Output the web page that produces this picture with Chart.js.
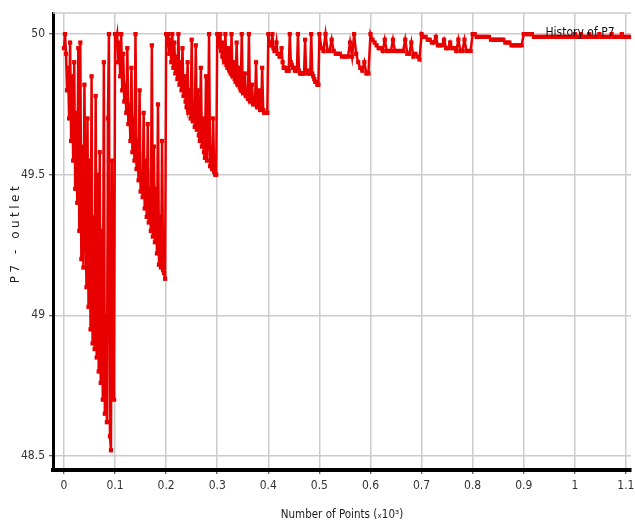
<!DOCTYPE html>
<html>
<head>
<meta charset="utf-8">
<script src="https://cdn.jsdelivr.net/npm/chart.js@4/dist/chart.umd.min.js"></script>
<style>
  html, body { margin: 0; padding: 0; background: #fff; }
  #wrap { width: 635px; height: 524px; position: relative; }
</style>
</head>
<body>
<div id="wrap"><canvas id="myChart"></canvas></div>
<script>
// each cycle covers 0.1 x10^3 points, samples evenly spread in the cycle
const cycle1 = [49.95, 50.0, 49.93, 49.8, 49.88, 49.7, 49.97, 49.62, 49.85, 49.55, 49.9, 49.45, 49.72,
  49.4, 49.95, 49.3, 49.97, 49.2, 49.6, 49.17, 49.82, 49.4, 49.1, 49.7, 49.03, 49.55, 48.95, 49.85,
  48.9, 49.35, 48.88, 49.78, 48.85, 49.5, 48.8, 49.58, 48.76, 49.3, 48.7, 49.9, 48.65, 49.0, 48.62,
  49.7, 50.0, 48.57, 48.52, 49.55, 48.72, 48.7];
const cycle2 = [50.0, 49.98, 50.0, 49.9, 49.97, 49.85, 50.0, 49.8, 49.93, 49.76, 49.82, 49.72, 49.95,
  49.68, 49.75, 49.62, 49.88, 49.58, 49.7, 49.55, 50.0, 49.52, 49.62, 49.48, 49.8, 49.44, 49.5, 49.42,
  49.72, 49.38, 49.55, 49.35, 49.68, 49.33, 49.45, 49.3, 49.96, 49.28, 49.6, 49.26, 49.45, 49.22, 49.75,
  49.18, 49.35, 49.17, 49.62, 49.16, 49.15, 49.13];
const cycle3 = [50.0, 49.96, 50.0, 49.93, 49.98, 49.9, 50.0, 49.88, 49.97, 49.86, 49.92, 49.84, 50.0,
  49.82, 49.9, 49.8, 49.95, 49.78, 49.85, 49.76, 49.74, 49.9, 49.72, 49.8, 49.7, 49.98, 49.69, 49.75,
  49.67, 49.96, 49.66, 49.8, 49.64, 49.62, 49.88, 49.6, 49.7, 49.58, 49.56, 49.85, 49.55, 49.65, 50.0,
  49.53, 49.6, 49.52, 49.7, 49.51, 49.5, 49.5];
const cycle4 = [50.0, 49.98, 49.96, 50.0, 49.94, 49.92, 49.97, 49.9, 50.0, 49.89, 49.88, 49.95, 49.87,
  49.86, 50.0, 49.85, 49.9, 49.84, 49.83, 49.97, 49.82, 49.88, 49.81, 49.8, 50.0, 49.8, 49.79, 49.86,
  49.78, 49.78, 49.77, 50.0, 49.77, 49.76, 49.82, 49.76, 49.75, 49.75, 49.9, 49.74, 49.74, 49.8, 49.73,
  49.73, 49.88, 49.73, 49.72, 49.72, 49.72, 49.72];
const cycle5 = [50.0, 49.97, 49.96, 49.96, 50.0, 49.95, 49.94, 49.94, 49.97, 49.93, 49.93, 49.92, 49.92,
  49.95, 49.9, 49.88, 49.88, 49.88, 49.87, 49.87, 49.87, 50.0, 49.9, 49.89, 49.88, 49.88, 49.87, 49.87,
  49.87, 50.0, 49.87, 49.86, 49.86, 49.86, 49.86, 49.86, 49.98, 49.87, 49.87, 49.86, 49.86, 49.86, 50.0,
  49.86, 49.85, 49.84, 49.83, 49.83, 49.82, 49.82];
const cycle6 = [50.0, 49.95, 49.94, 50.0, 49.94, 49.94, 49.98, 49.94, 49.93, 49.93, 49.93, 49.92, 49.92,
  49.92, 49.92, 49.97, 49.92, 50.0, 49.93, 49.9, 49.88, 49.87, 49.9, 49.86, 49.86];
const cycle7 = [50.0, 49.98, 49.97, 49.96, 49.95, 49.95, 49.94, 49.98, 49.94, 49.94, 49.94, 49.98, 49.94,
  49.94, 49.94, 49.94, 49.94, 49.98, 49.93, 49.93, 49.97, 49.92, 49.93, 49.92, 49.91];
const cycle8 = [50.0, 49.99, 49.99, 49.98, 49.98, 49.97, 49.97, 49.99, 49.96, 49.96, 49.96, 49.98, 49.95,
  49.95, 49.97, 49.95, 49.95, 49.94, 49.98, 49.94, 49.94, 49.98, 49.94, 49.94, 49.94];
const cycle9 = [50.0, 50.0, 49.99, 49.99, 49.99, 49.99, 49.99, 49.99, 49.99, 49.98, 49.98, 49.98, 49.98,
  49.98, 49.98, 49.98, 49.97, 49.97, 49.97, 49.96, 49.96, 49.96, 49.96, 49.96, 49.96];
const cycle10 = [50.0, 50.0, 50.0, 50.0, 50.0, 49.99, 49.99, 49.99, 49.99, 49.99, 49.99, 49.99, 49.99,
  49.99, 49.99, 49.99, 49.99, 49.99, 49.99, 49.99, 49.99, 49.99, 49.99, 49.99, 49.99];
// last cycle runs a little past 1.1
const cycle11 = [50.0, 49.99, 49.99, 50.0, 49.99, 49.99, 49.99, 50.0, 49.99, 49.99, 49.99, 49.99, 50.0,
  49.99, 49.99, 49.99, 49.99, 49.99, 50.0, 49.99, 49.99, 49.99, 49.99, 50.0, 49.99, 49.99, 49.99, 49.99];

const cycleStarts = [0, 0.1, 0.2, 0.3, 0.4, 0.5, 0.6, 0.7, 0.8, 0.9, 1.0];
const cycleCounts = [50, 50, 50, 50, 50, 25, 25, 25, 25, 25, 25]; // samples per 0.1

const xTicks = [0, 0.1, 0.2, 0.3, 0.4, 0.5, 0.6, 0.7, 0.8, 0.9, 1, 1.1];
const yTicks = [48.5, 49, 49.5, 50];

const seriesLabel = 'History of P7';
const xTitle = 'Number of Points (\u209310\u00B3)';
const yTitle = 'P7 - outlet';

const cycles = [cycle1, cycle2, cycle3, cycle4, cycle5, cycle6, cycle7, cycle8, cycle9, cycle10, cycle11];
const points = [];
cycles.forEach((c, k) => {
  const dx = 0.1 / cycleCounts[k];
  c.forEach((v, i) => points.push({ x: cycleStarts[k] + i * dx, y: v }));
});

const narrow = '"Liberation Sans Narrow", "DejaVu Sans Condensed", sans-serif';

// axis title on y, frame top line and the in-plot label
const extras = {
  id: 'extras',
  beforeDatasetsDraw(chart) {
    const { ctx, chartArea } = chart;
    ctx.save();
    ctx.strokeStyle = '#cccccc';
    ctx.lineWidth = 1.5;
    ctx.beginPath();
    ctx.moveTo(chartArea.left, chartArea.top);
    ctx.lineTo(chartArea.right, chartArea.top);
    ctx.stroke();
    ctx.restore();
  },
  afterDraw(chart) {
    const { ctx } = chart;
    ctx.save();
    ctx.fillStyle = '#222';
    ctx.font = '12px "DejaVu Sans", sans-serif';
    ctx.letterSpacing = '3.5px';
    ctx.translate(16, 233);
    ctx.rotate(-Math.PI / 2);
    ctx.textAlign = 'center';
    ctx.textBaseline = 'middle';
    ctx.fillText(yTitle, 0, 0);
    ctx.restore();

    ctx.save();
    ctx.fillStyle = '#111';
    ctx.font = '12px ' + narrow;
    ctx.textAlign = 'center';
    ctx.textBaseline = 'middle';
    ctx.fillText(seriesLabel, 580, 33);
    ctx.restore();
  }
};

const fmt = (v) => String(+v.toFixed(1));

const chart1 = new Chart(document.getElementById('myChart').getContext('2d'), {
  type: 'line',
  data: {
    datasets: [{
      label: seriesLabel,
      data: points,
      borderColor: 'rgb(232, 0, 0)',
      backgroundColor: 'rgb(232, 0, 0)',
      borderWidth: 2.5,
      pointStyle: 'rect',
      pointRadius: 3,
      pointBorderWidth: 0,
      tension: 0
    }]
  },
  options: {
    responsive: true,
    maintainAspectRatio: false,
    animation: false,
    layout: { padding: { top: 13, right: 0, left: 0, bottom: 0 } },
    plugins: {
      legend: { display: false },
      tooltip: { enabled: false }
    },
    scales: {
      x: {
        type: 'linear',
        min: -0.0215,
        max: 1.11,
        afterBuildTicks: (scale) => { scale.ticks = xTicks.map(v => ({ value: v })); },
        afterFit: (scale) => {
          scale.height = 54;
          scale.paddingLeft = 0;
          scale.paddingRight = 0;
        },
        ticks: {
          includeBounds: false,
          autoSkip: false,
          maxRotation: 0,
          padding: 5,
          color: '#333',
          font: { family: narrow, size: 12 },
          callback: fmt
        },
        grid: { color: '#cccccc', lineWidth: 1.5, tickLength: 4, tickColor: '#333', tickWidth: 1 },
        border: { color: '#000', width: 4 },
        title: {
          display: true,
          text: xTitle,
          color: '#222',
          font: { family: narrow, size: 11.5 },
          padding: { top: 0, bottom: 2 }
        }
      },
      y: {
        type: 'linear',
        min: 48.45,
        max: 50.075,
        afterBuildTicks: (scale) => { scale.ticks = yTicks.map(v => ({ value: v })); },
        afterFit: (scale) => {
          scale.width = 53;
          scale.paddingTop = 0;
          scale.paddingBottom = 0;
        },
        ticks: {
          includeBounds: false,
          padding: 4,
          color: '#333',
          font: { family: narrow, size: 12 },
          callback: fmt
        },
        grid: { color: '#cccccc', lineWidth: 1.5, tickLength: 4, tickColor: '#333', tickWidth: 1 },
        border: { color: '#000', width: 3 }
      }
    }
  },
  plugins: [extras]
});
</script>
</body>
</html>
